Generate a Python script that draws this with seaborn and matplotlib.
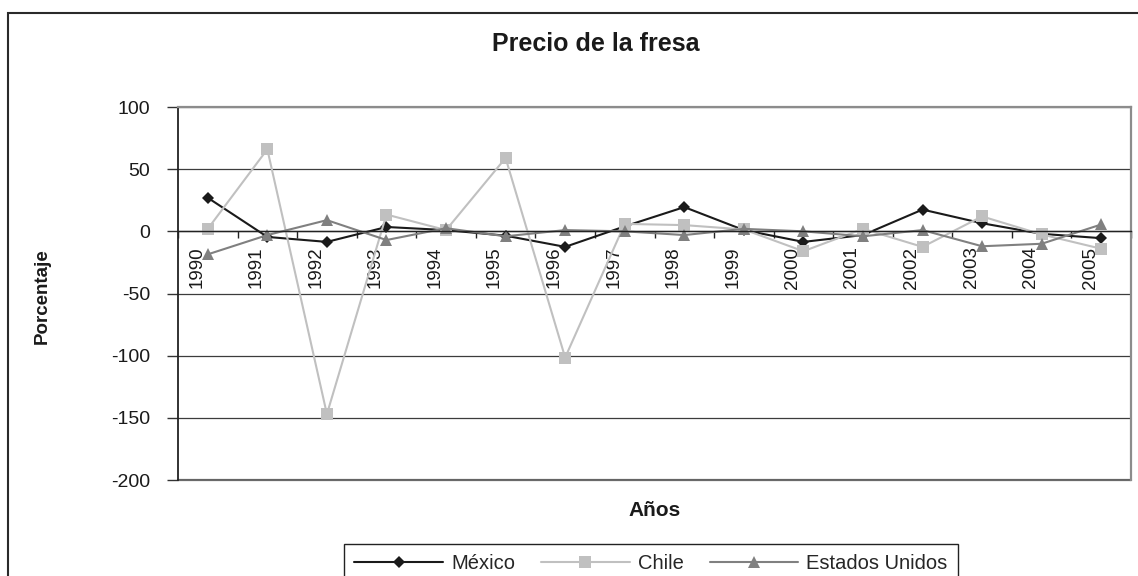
"""
Precio de la fresa: variacion porcentual anual por pais (1990-2005)
"""
import matplotlib
matplotlib.use("Agg")
import matplotlib.pyplot as plt
import matplotlib.transforms as mtransforms
from matplotlib.patches import Rectangle
from matplotlib import font_manager
import numpy as np
import pandas as pd
import seaborn as sns

# Data
years = [str(y) for y in range(1990, 2006)]
mexico = [27, -4.5, -8.5, 3.5, 1, -3.5, -12.5, 4, 19.5, 1, -8.5, -3, 17.5, 6.5, -2, -5.5]
chile = [2, 66, -147, 13.5, 1, 59, -101.5, 6, 5, 1.5, -16, 2, -12.5, 12, -2.5, -14]
eeuu = [-18.5, -3, 9, -7, 2.5, -4, 1, 0, -3, 2, 0, -4, 1, -12, -10, 5.5]

series_names = ["México", "Chile", "Estados Unidos"]
series_values = [mexico, chile, eeuu]
colors = ["#1a1a1a", "#c0c0c0", "#808080"]
markers = ["D", "s", "^"]
marker_sizes = [6.5, 8, 9]

y_ticks = [-200, -150, -100, -50, 0, 50, 100]

rows = []
for name, vals in zip(series_names, series_values):
    for i, v in enumerate(vals):
        rows.append({"pos": i, "anio": years[i], "valor": v, "pais": name})
df = pd.DataFrame(rows)

sns.set_style("white")
plt.rcParams['font.family'] = ['Liberation Sans', 'DejaVu Sans']

fig = plt.figure(figsize=(11.38, 5.76), dpi=100)
ax = fig.add_axes([178 / 1138, 1 - 480 / 576, (1131 - 178) / 1138, (480 - 107) / 576])

for name, color, marker, ms in zip(series_names, colors, markers, marker_sizes):
    sns.lineplot(
        data=df[df["pais"] == name],
        x="pos", y="valor",
        color=color, marker=marker, markersize=ms,
        markeredgecolor=color, markeredgewidth=0,
        linewidth=1.5, label=name, ax=ax, legend=False,
    )

# Axes limits and grid
ax.set_xlim(-0.5, len(years) - 0.5)
ax.set_ylim(-200, 100)
ax.set_yticks(y_ticks)
ax.set_yticklabels([str(t) for t in y_ticks], fontsize=14, color="#1a1a1a")
ax.yaxis.grid(True, color="#3c3c3c", linewidth=0.9)
ax.xaxis.grid(False)
ax.set_axisbelow(True)
ax.axhline(-200, color="#6a6a6a", linewidth=1.6, clip_on=False, zorder=0.5)
ax.tick_params(axis="y", direction="out", length=8, width=1, color="#333333", pad=12, left=True)

# Category axis crossing at zero
ax.spines["bottom"].set_position(("data", 0))
ax.spines["bottom"].set_color("#222222")
ax.spines["bottom"].set_linewidth(1.0)
ax.spines["left"].set_color("#222222")
ax.spines["left"].set_linewidth(1.3)
for side in ["top", "right"]:
    ax.spines[side].set_color("#8c8c8c")
    ax.spines[side].set_linewidth(1.6)

ax.set_xticks(np.arange(-0.5, len(years)), labels=[""] * (len(years) + 1))
ax.set_xticks(np.arange(len(years)), labels=years, minor=True)
ax.tick_params(axis="x", which="major", direction="out", length=5, width=1, color="#222222", bottom=True)
ax.tick_params(axis="x", which="minor", length=0, pad=11, labelsize=13.5, labelrotation=90, labelcolor="#1a1a1a")
offset = mtransforms.ScaledTranslation(-11 / 100, 0, fig.dpi_scale_trans)
for lab in ax.get_xticklabels(minor=True):
    lab.set_transform(lab.get_transform() + offset)

ax.set_xlabel("")
ax.set_ylabel("")

# Titles and axis labels
fig.text(596 / 1138, 1 - 44 / 576, "Precio de la fresa", ha="center", va="center",
         fontsize=18, fontweight="bold", color="#1a1a1a")
fig.text(655 / 1138, 1 - 511 / 576, "Años", ha="center", va="center",
         fontsize=15, fontweight="bold", color="#1a1a1a")

installed = {f.name for f in font_manager.fontManager.ttflist}
if "Liberation Sans Narrow" in installed:
    ylab_family, ylab_size = ["Liberation Sans Narrow", "DejaVu Sans"], 15
else:
    ylab_family, ylab_size = ["Liberation Sans", "DejaVu Sans"], 13.5
fig.text(42 / 1138, 1 - 296 / 576, "Porcentaje", ha="center", va="center", rotation=90,
         fontsize=ylab_size, fontweight="bold", family=ylab_family, color="#1a1a1a")

# Legend
handles, labels = ax.get_legend_handles_labels()
leg = fig.legend(handles, labels, loc="upper center", bbox_to_anchor=(651 / 1138, 1 - 544 / 576),
                 ncol=3, frameon=True, fancybox=False, edgecolor="#222222", framealpha=1,
                 fontsize=14.5, handlelength=4.4, handletextpad=0.4, columnspacing=1.3,
                 borderpad=0.5, borderaxespad=0)
leg.get_frame().set_linewidth(1.0)

# Outer chart frame
fig.patches.append(Rectangle((8 / 1138, -0.05), 1.2, 1 - 13 / 576 + 0.05, transform=fig.transFigure,
                             fill=False, edgecolor="#2a2a2a", linewidth=1.5, zorder=0))

fig.savefig("out.png", dpi=100)
